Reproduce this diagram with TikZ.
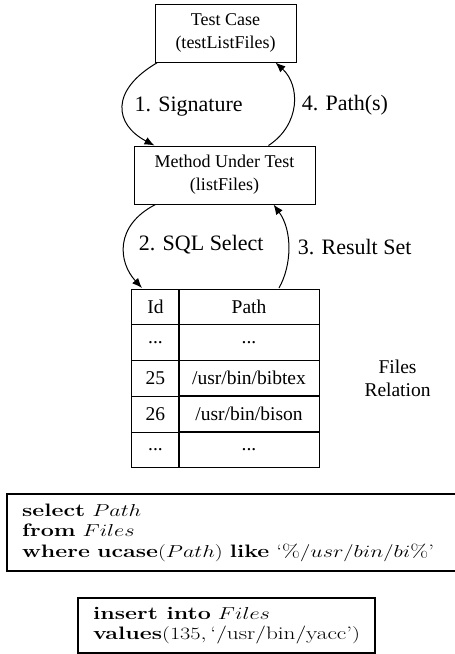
\documentclass[tikz,border=0pt]{standalone}
\usepackage{fontspec}
\newfontfamily\gvfont{Liberation Serif}
\usetikzlibrary{arrows.meta, positioning, matrix}

\begin{document}
\begin{tikzpicture}[x=1pt, y=1pt, line width=1pt, >={Latex[length=10pt,width=8pt]}]
				\useasboundingbox (0,0) rectangle (455,-654);
				% Setup the styles for the boxes, labels and cells
				\tikzset{box style/.style={draw, rectangle, align=center,
											inner sep=0pt, minimum height=58pt,
											font=\gvfont\fontsize{18}{23}\selectfont},
						 lbl style/.style={anchor=west, inner sep=0pt,
											font=\gvfont\fontsize{22}{26}\selectfont},
						 cell style/.style={draw, inner sep=0pt, minimum height=35.6pt,
											font=\gvfont\fontsize{19.5}{23}\selectfont},
						 query style/.style={draw, line width=2.2pt, anchor=north west,
											inner xsep=15pt, inner ysep=0pt,
											font=\fontsize{18}{20.5}\selectfont}}
				% Draw the boxes
				\node[box style, minimum width=141pt] at (225.5,-33) (tc)  {Test Case\\(testListFiles)};
				\node[box style, minimum width=181pt] at (224.5,-175) (mut) {Method Under Test\\(listFiles)};
				% Draw the relation
				\matrix[matrix of nodes, anchor=north west, inner sep=0pt,
						row sep=-1pt, column sep=-1pt,
						nodes={cell style},
						column 1/.style={nodes={minimum width=47pt}},
						column 2/.style={nodes={minimum width=140pt}}] at (131,-288) (files) {
					Id  & Path \\
					... & ... \\
					25  & /usr/bin/bibtex \\
					26  & /usr/bin/bison \\
					... & ... \\
				};
				\node[right=44pt of files, inner sep=0pt, align=center,
					  font=\gvfont\fontsize{19.5}{23}\selectfont] (rel) {Files\\Relation};
				% Connect the boxes with arrows
				\draw[->] ([xshift=3pt]tc.south west) .. controls +(-48,-28) and +(-40,21) .. ([xshift=21pt]mut.north west)
					node[lbl style, pos=0.5, xshift=11pt] {1. Signature};
				\draw[->] ([xshift=-47pt]mut.north east) .. controls +(32,21) and +(25,-23) .. ([xshift=-21pt]tc.south east)
					node[lbl style, pos=0.5, xshift=8pt] {4. Path(s)};
				\draw[->] ([xshift=22pt]mut.south west) .. controls +(-41,-21) and +(-24,26) .. ([xshift=11pt]files.north west)
					node[lbl style, pos=0.5, xshift=14pt] {2. SQL Select};
				\draw[->] ([xshift=-41pt]files.north east) .. controls +(13,23) and +(19,-26) .. ([xshift=-42pt]mut.south east)
					node[lbl style, pos=0.5, xshift=9pt] {3. Result Set};
				% Draw the queries
				\node[query style, minimum height=77pt] at (6,-493) (sel) {\scalebox{1.29}[1]{%
					\begin{tabular}{@{}l@{\hspace{8pt}}}
						\textbf{select} $Path$\\
						\textbf{from} $Files$\\
						\textbf{where} \textbf{ucase}$(Path)$ \textbf{like} `$\%/usr/bin/bi\%$'
					\end{tabular}}};
				\node[query style, minimum height=55pt] at (77,-597) (ins) {\scalebox{1.29}[1]{%
					\begin{tabular}{@{}l@{}}
						\textbf{insert into} $Files$\\
						\textbf{values}$(135,\mbox{`/usr/bin/yacc'})$
					\end{tabular}}};
			\end{tikzpicture}
\end{document}
